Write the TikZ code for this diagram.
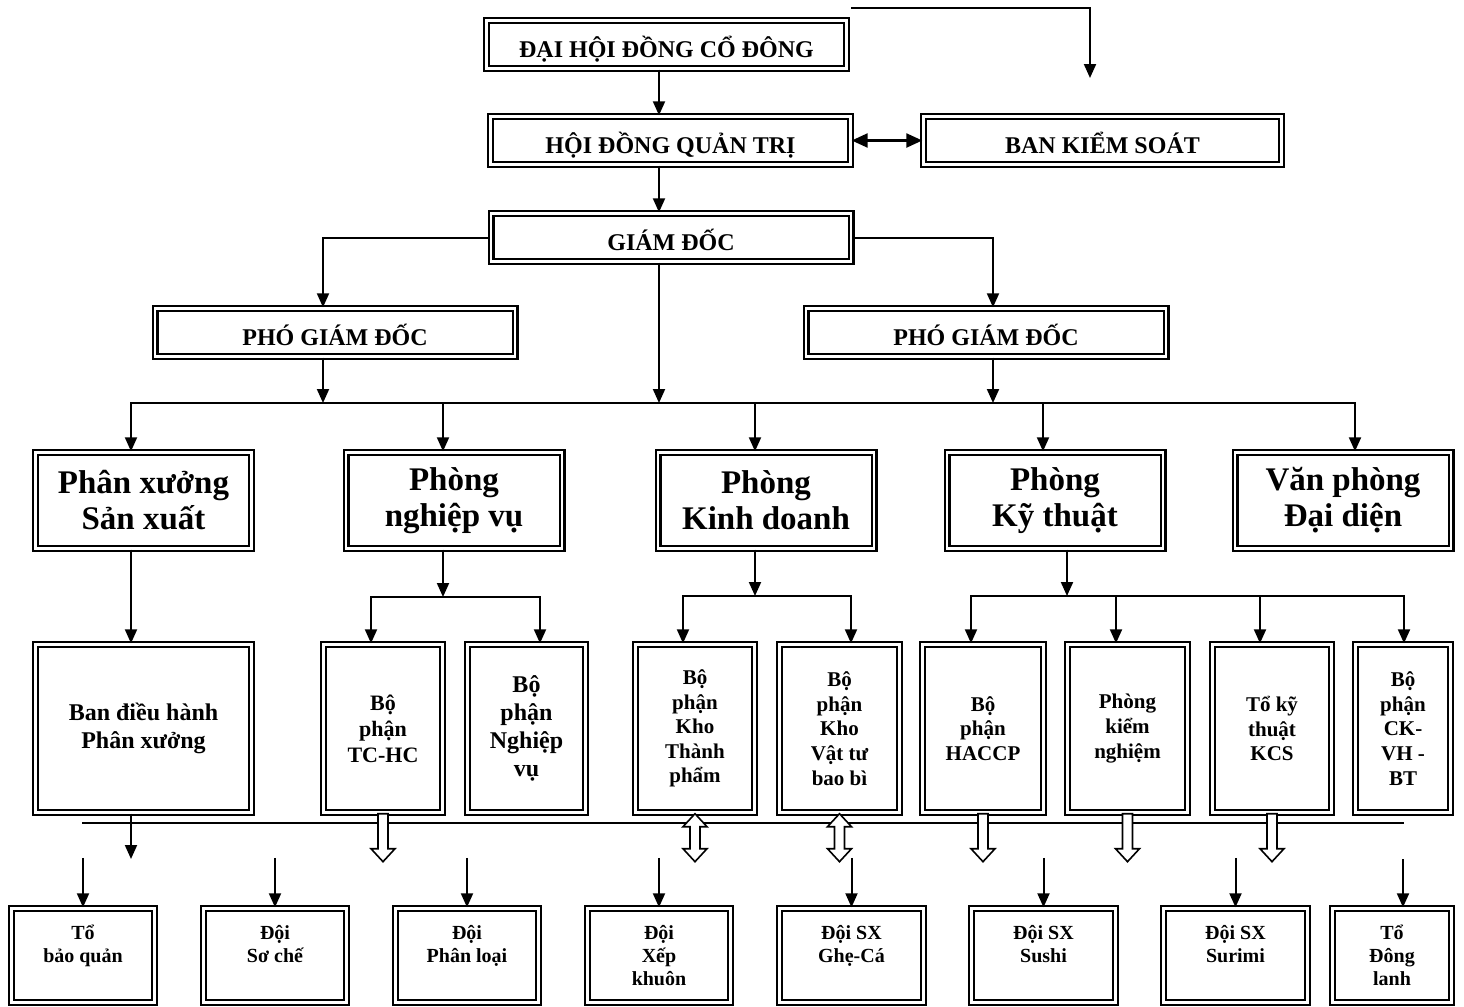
\documentclass[tikz,border=0pt]{standalone}
\usepackage{fontspec}
\setmainfont{Liberation Serif}
\usetikzlibrary{arrows.meta}

\tikzset{
    box/.style={draw, line width=1.2pt, double, double distance=1.1pt, inner sep=0pt, align=center},
    topbox/.style={box, minimum width=180pt, minimum height=24pt, text height=15pt, text depth=2.4pt, font=\bfseries\fontsize{12}{14}\selectfont},
    deptbox/.style={box, minimum width=108pt, minimum height=48pt, font=\bfseries\fontsize{16.5}{18}\selectfont},
    unitbox/.style={box, minimum width=59.5pt, minimum height=84pt, font=\bfseries\fontsize{10.5}{12.3}\selectfont},
    teambox/.style={box, minimum width=71.5pt, minimum height=47pt},
    teamtext/.style={anchor=north, align=center, inner sep=0pt, font=\bfseries\fontsize{10}{11.5}\selectfont, execute at begin node=\strut},
    arr/.style={line width=1pt, -{Triangle[width=6pt, length=7pt]}},
    dblarr/.style={line width=1.2pt, {Triangle[width=7pt, length=8pt]}-{Triangle[width=7pt, length=8pt]}},
    link/.style={line width=1pt},
    hollow/.style={draw, line width=0.8pt, fill=white},
}

\begin{document}
\begin{tikzpicture}[x=0.5pt, y=-0.5pt]
    \useasboundingbox (0,0) rectangle (1464,1007);

    % Boards and directors
    \node[topbox] (dhcd) at (666.5,44.5) {ĐẠI HỘI ĐỒNG CỔ ĐÔNG};
    \node[topbox] (hdqt) at (670.5,140.5) {HỘI ĐỒNG QUẢN TRỊ};
    \node[topbox, minimum width=179pt] (bks) at (1102.5,140.5) {BAN KIỂM SOÁT};
    \node[topbox] (gd) at (671,237.5) {GIÁM ĐỐC};
    \node[topbox] (pgd1) at (335,332.5) {PHÓ GIÁM ĐỐC};
    \node[topbox] (pgd2) at (986,332.5) {PHÓ GIÁM ĐỐC};

    % Departments
    \node[deptbox] (pxsx) at (143.5,500.5) {Phân xưởng\\Sản xuất};
    \node[deptbox] (pnv) at (454,500.5) {Phòng\\nghiệp vụ};
    \node[deptbox] (pkd) at (766,500.5) {Phòng\\Kinh doanh};
    \node[deptbox] (pkt) at (1055,500.5) {Phòng\\Kỹ thuật};
    \node[deptbox] (vpdd) at (1343,500.5) {Văn phòng\\Đại diện};

    % Units
    \node[unitbox, minimum width=108pt, font=\bfseries\fontsize{12}{14}\selectfont] (ban) at (143.5,728.5) {Ban điều hành\\Phân xưởng};
    \node[unitbox, font=\bfseries\fontsize{11}{13}\selectfont] (tchc) at (383,728.5) {Bộ\\phận\\TC-HC};
    \node[unitbox, minimum width=59pt, font=\bfseries\fontsize{12}{14}\selectfont] (bpnv) at (526.5,728.5) {Bộ\\phận\\Nghiệp\\vụ};
    \node[unitbox] (kho1) at (695,728.5) {Bộ\\phận\\Kho\\Thành\\phẩm};
    \node[unitbox, minimum width=60pt] (kho2) at (839.5,728.5) {Bộ\\phận\\Kho\\Vật tư\\bao bì};
    \node[unitbox, minimum width=60.5pt] (haccp) at (983,728.5) {Bộ\\phận\\HACCP};
    \node[unitbox, minimum width=60pt] (kiem) at (1127.5,728.5) {Phòng\\kiểm\\nghiệm};
    \node[unitbox] (kcs) at (1272,728.5) {Tổ kỹ\\thuật\\KCS};
    \node[unitbox, minimum width=47.5pt] (ckvh) at (1403,728.5) {Bộ\\phận\\CK-\\VH -\\BT};

    % Teams
    \node[teambox] (tbq) at (83,955.5) {};
    \node[teambox] (dsc) at (275,955.5) {};
    \node[teambox] (dpl) at (467,955.5) {};
    \node[teambox] (dxk) at (659,955.5) {};
    \node[teambox, minimum width=72pt] (dgc) at (851.5,955.5) {};
    \node[teambox, minimum width=72pt] (dsu) at (1043.5,955.5) {};
    \node[teambox, minimum width=72pt] (dsr) at (1235.5,955.5) {};
    \node[teambox, minimum width=59.5pt] (tdl) at (1392,955.5) {};
    \node[teamtext] (tbqt) at ([yshift=-8.75pt]tbq.north) {Tổ\\bảo quản};
    \node[teamtext] (dsct) at ([yshift=-8.75pt]dsc.north) {Đội\\Sơ chế};
    \node[teamtext] (dplt) at ([yshift=-8.75pt]dpl.north) {Đội\\Phân loại};
    \node[teamtext] (dxkt) at ([yshift=-8.75pt]dxk.north) {Đội\\Xếp\\khuôn};
    \node[teamtext] (dgct) at ([yshift=-8.75pt]dgc.north) {Đội SX\\Ghẹ-Cá};
    \node[teamtext] (dsut) at ([yshift=-8.75pt]dsu.north) {Đội SX\\Sushi};
    \node[teamtext] (dsrt) at ([yshift=-8.75pt]dsr.north) {Đội SX\\Surimi};
    \node[teamtext] (tdlt) at ([yshift=-8.75pt]tdl.north) {Tổ\\Đông\\lanh};

    % Upper connectors
    \coordinate (topL) at (851,8);
    \coordinate (topEnd) at (1090,78);
    \coordinate (spine) at (659,0);
    \coordinate (pgl) at (323,0);
    \coordinate (pgr) at (993,0);
    \draw[link, -{Triangle[width=6pt, length=7pt]}] (topL) -| (topEnd);
    \draw[arr] (dhcd.south -| spine) -- (hdqt.north -| spine);
    \draw[arr] (hdqt.south -| spine) -- (gd.north -| spine);
    \draw[dblarr] (hdqt.east) -- (bks.west);
    \draw[arr] (gd.west) -| (pgd1.north -| pgl);
    \draw[arr] (gd.east) -| (pgd2.north -| pgr);

    % Main bus
    \coordinate (busC) at (659,403);
    \coordinate (b1) at (131,403);
    \coordinate (b2) at (443,403);
    \coordinate (b3) at (755,403);
    \coordinate (b4) at (1043,403);
    \coordinate (b5) at (1355,403);
    \draw[arr] (gd.south -| busC) -- (busC);
    \draw[arr] (pgd1.south -| pgl) -- (busC -| pgl);
    \draw[arr] (pgd2.south -| pgr) -- (busC -| pgr);
    \draw[arr] (busC) -| (pxsx.north -| b1);
    \draw[arr] (busC) -| (vpdd.north -| b5);
    \draw[arr] (b2) -- (pnv.north -| b2);
    \draw[arr] (b3) -- (pkd.north -| b3);
    \draw[arr] (b4) -- (pkt.north -| b4);

    % Unit connectors
    \coordinate (nv) at (443,597);
    \coordinate (nvL) at (371,0);
    \coordinate (nvR) at (540,0);
    \coordinate (kd) at (755,596);
    \coordinate (kdL) at (683,0);
    \coordinate (kdR) at (851,0);
    \coordinate (kt) at (1067,596);
    \coordinate (kt1) at (971,0);
    \coordinate (kt2) at (1116,596);
    \coordinate (kt3) at (1260,596);
    \coordinate (kt4) at (1404,0);
    \draw[arr] (pxsx.south -| b1) -- (ban.north -| b1);
    \draw[arr] (pnv.south -| nv) -- (nv);
    \draw[arr] (nv) -| (tchc.north -| nvL);
    \draw[arr] (nv) -| (bpnv.north -| nvR);
    \draw[arr] (pkd.south -| kd) -- (kd);
    \draw[arr] (kd) -| (kho1.north -| kdL);
    \draw[arr] (kd) -| (kho2.north -| kdR);
    \draw[arr] (pkt.south -| kt) -- (kt);
    \draw[arr] (kt) -| (haccp.north -| kt1);
    \draw[arr] (kt) -| (ckvh.north -| kt4);
    \draw[arr] (kt2) -- (kiem.north -| kt2);
    \draw[arr] (kt3) -- (kcs.north -| kt3);

    % Lower bus and hollow arrows
    \coordinate (lowL) at (82,823);
    \coordinate (lowR) at (1404,823);
    \coordinate (banEnd) at (131,859);
    \draw[link] (lowL) -- (lowR);
    \draw[arr] (ban.south -| banEnd) -- (banEnd);
    \draw[hollow] (tchc.south) ++(-5,0) -- ++(0,35) -- ++(-7,0) -- ++(12,13) -- ++(12,-13) -- ++(-7,0) -- ++(0,-35) -- cycle;
    \draw[hollow] (haccp.south) ++(-5,0) -- ++(0,35) -- ++(-7,0) -- ++(12,13) -- ++(12,-13) -- ++(-7,0) -- ++(0,-35) -- cycle;
    \draw[hollow] (kiem.south) ++(-5,0) -- ++(0,35) -- ++(-7,0) -- ++(12,13) -- ++(12,-13) -- ++(-7,0) -- ++(0,-35) -- cycle;
    \draw[hollow] (kcs.south) ++(-5,0) -- ++(0,35) -- ++(-7,0) -- ++(12,13) -- ++(12,-13) -- ++(-7,0) -- ++(0,-35) -- cycle;
    \draw[hollow] (kho1.south) -- ++(12,13) -- ++(-7,0) -- ++(0,22) -- ++(7,0) -- ++(-12,13) -- ++(-12,-13) -- ++(7,0) -- ++(0,-22) -- ++(-7,0) -- cycle;
    \draw[hollow] (kho2.south) -- ++(12,13) -- ++(-7,0) -- ++(0,22) -- ++(7,0) -- ++(-12,13) -- ++(-12,-13) -- ++(7,0) -- ++(0,-22) -- ++(-7,0) -- cycle;

    % Team arrows
    \coordinate (t8) at (1403,859);
    \draw[arr] ([yshift=24.75pt]tbq.north) -- (tbq.north);
    \draw[arr] ([yshift=24.75pt]dsc.north) -- (dsc.north);
    \draw[arr] ([yshift=24.75pt]dpl.north) -- (dpl.north);
    \draw[arr] ([yshift=24.75pt]dxk.north) -- (dxk.north);
    \draw[arr] ([yshift=24.75pt]dgc.north) -- (dgc.north);
    \draw[arr] ([yshift=24.75pt]dsu.north) -- (dsu.north);
    \draw[arr] ([yshift=24.75pt]dsr.north) -- (dsr.north);
    \draw[arr] (t8) -- (tdl.north -| t8);
\end{tikzpicture}
\end{document}
